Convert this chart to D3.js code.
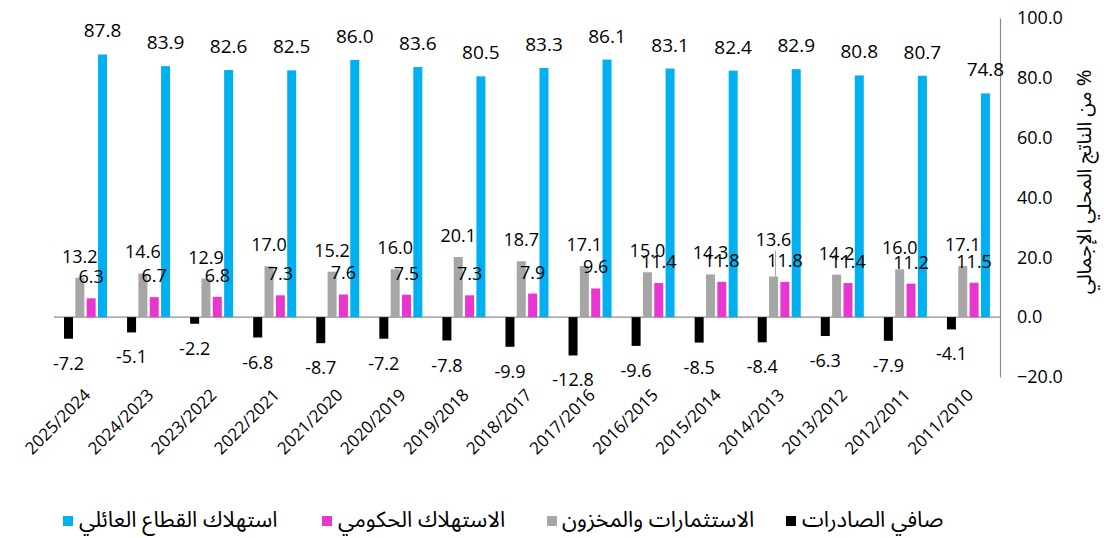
<!DOCTYPE html>
<html>
<head>
<meta charset="utf-8">
<script src="https://cdn.jsdelivr.net/npm/d3@7/dist/d3.min.js"></script>
<style>
  html, body { margin: 0; padding: 0; background: #fff; }
  svg { display: block; }
  .num { font-family: "Open Sans", "Noto Sans", sans-serif; fill: #000; }
  .ar { font-family: "Noto Sans Arabic", "Noto Kufi Arabic", "DejaVu Sans", sans-serif; fill: #000; }
</style>
</head>
<body>
<svg id="chart" width="1104" height="538"></svg>
<script>
const categories = ["2025/2024","2024/2023","2023/2022","2022/2021","2021/2020","2020/2019","2019/2018","2018/2017","2017/2016","2016/2015","2015/2014","2014/2013","2013/2012","2012/2011","2011/2010"];
const netExports = [-7.2,-5.1,-2.2,-6.8,-8.7,-7.2,-7.8,-9.9,-12.8,-9.6,-8.5,-8.4,-6.3,-7.9,-4.1];
const investment = [13.2,14.6,12.9,17.0,15.2,16.0,20.1,18.7,17.1,15.0,14.3,13.6,14.2,16.0,17.1];
const government = [6.3,6.7,6.8,7.3,7.6,7.5,7.3,7.9,9.6,11.4,11.8,11.8,11.4,11.2,11.5];
const household = [87.8,83.9,82.6,82.5,86.0,83.6,80.5,83.3,86.1,83.1,82.4,82.9,80.8,80.7,74.8];
const seriesNames = ["صافي الصادرات","الاستثمارات والمخزون","الاستهلاك الحكومي","استهلاك القطاع العائلي"];
const yTicks = [-20,0,20,40,60,80,100];
const yTitle = "% من الناتج المحلي الإجمالي";

const seriesKeys = ["net","inv","gov","hh"];
const seriesData = { net: netExports, inv: investment, gov: government, hh: household };
const colors = { net: "#000000", inv: "#A6A6A6", gov: "#E936D0", hh: "#00B0F0" };

const svg = d3.select("#chart");
const x = d3.scaleBand().domain(categories).range([54, 1000]).padding(0);
const xi = d3.scaleBand().domain(seriesKeys).range([10, 53]).paddingInner(0.206).paddingOuter(0);
const y = d3.scaleLinear().domain([-20, 100]).range([377, 18]);

// zero line
svg.append("line").attr("x1", 54).attr("x2", 1000).attr("y1", y(0)).attr("y2", y(0))
  .attr("stroke", "#8c8c8c").attr("stroke-width", 1.2);

// right axis
const yAxis = d3.axisRight(y).tickValues(yTicks).tickSize(0).tickPadding(17).tickFormat(d3.format(".1f"));
const ga = svg.append("g").attr("transform", "translate(1000,0)").call(yAxis);
ga.select(".domain").attr("stroke", "#8c8c8c").attr("stroke-width", 1.2);
ga.selectAll("text").attr("class", "num").style("font-size", "18px").attr("fill", "#000");

// bars
const groups = svg.append("g").selectAll("g").data(categories).join("g")
  .attr("transform", d => `translate(${x(d)},0)`);

seriesKeys.forEach(k => {
  groups.append("rect")
    .attr("x", xi(k))
    .attr("width", xi.bandwidth())
    .attr("y", (d, i) => y(Math.max(0, seriesData[k][i])))
    .attr("height", (d, i) => Math.abs(y(seriesData[k][i]) - y(0)))
    .attr("fill", colors[k]);
});

// labels
seriesKeys.forEach(k => {
  groups.append("text")
    .attr("class", "num")
    .attr("text-anchor", "middle")
    .style("font-size", k === "hh" ? "19px" : "18px")
    .attr("x", xi(k) + xi.bandwidth() / 2)
    .attr("y", (d, i) => {
      const v = seriesData[k][i];
      if (v < 0) return y(v) + 31;
      let off = k === "hh" ? 17 : 15;
      if (k === "inv" && d === "2014/2013") off = 30;
      return y(v) - off;
    })
    .text((d, i) => seriesData[k][i].toFixed(1));
});

// leader line for moved label
groups.filter(d => d === "2014/2013").append("line")
  .attr("x1", xi("inv") + xi.bandwidth() / 2 + 2)
  .attr("x2", xi("inv") + xi.bandwidth() / 2 + 2)
  .attr("y1", (d) => y(investment[categories.indexOf(d)]) - 26)
  .attr("y2", (d) => y(investment[categories.indexOf(d)]))
  .attr("stroke", "#a6a6a6").attr("stroke-width", 1);

// x labels
svg.append("g").selectAll("text").data(categories).join("text")
  .attr("class", "num")
  .style("font-size", "17px")
  .attr("text-anchor", "end")
  .attr("transform", d => `translate(${x(d) + x.bandwidth() / 2 + 6},${396}) rotate(-45)`)
  .text(d => d);

// y title
svg.append("text")
  .attr("class", "ar")
  .attr("direction", "rtl")
  .attr("text-anchor", "middle")
  .style("font-size", "20px")
  .attr("transform", `translate(1091,182) rotate(-90)`)
  .text(yTitle);

// legend
const legendItems = [
  { key: "hh", sq: 63, tx: 79 },
  { key: "gov", sq: 322, tx: 338 },
  { key: "inv", sq: 547, tx: 562 },
  { key: "net", sq: 786, tx: 802 }
];
const lg = svg.append("g");
legendItems.forEach(it => {
  lg.append("rect").attr("x", it.sq).attr("y", 516).attr("width", 10).attr("height", 10).attr("fill", colors[it.key]);
  lg.append("text").attr("class", "ar").style("font-size", "22px")
    .attr("x", it.tx).attr("y", 527).attr("text-anchor", "start")
    .text(seriesNames[seriesKeys.indexOf(it.key)]);
});
</script>
</body>
</html>
